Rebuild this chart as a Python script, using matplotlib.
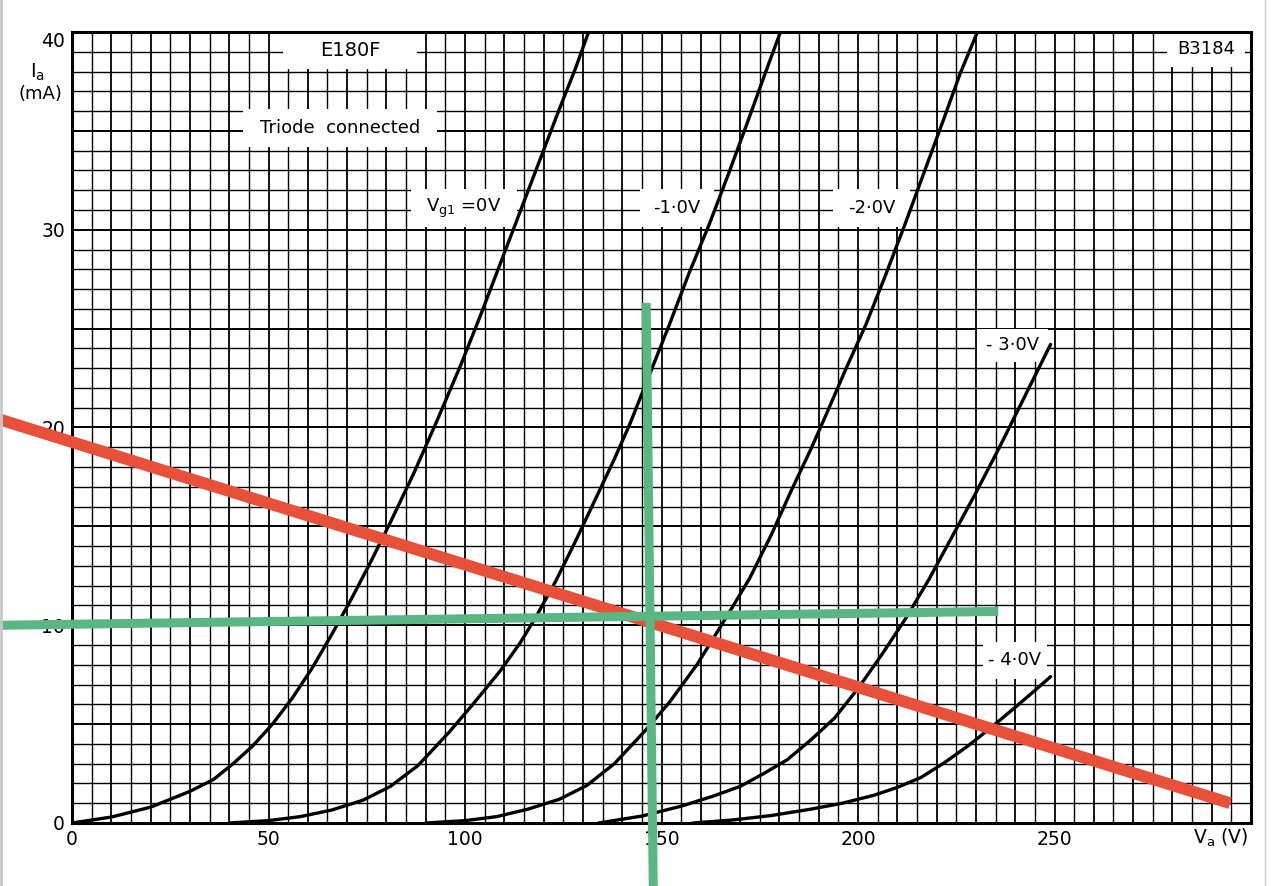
import numpy as np
import matplotlib.pyplot as plt
from matplotlib.patches import Rectangle
from matplotlib.lines import Line2D

# E180F triode-connected anode characteristics
va_0 = [0, 10, 20, 30, 36, 41, 46, 51, 56, 61, 66, 71, 76, 81, 87, 93, 99, 104, 109, 114, 119, 124, 128, 132]
ia_0 = [0, 0.3, 0.8, 1.6, 2.2, 3.0, 3.9, 5.0, 6.3, 7.8, 9.5, 11.3, 13.2, 15.2, 17.7, 20.4, 23.2, 25.7, 28.3, 30.9, 33.5, 36.1, 38.1, 40.3]

va_1 = [40, 50, 58, 66, 74, 81, 88, 96, 102, 109, 114, 118, 123, 128, 133, 138, 142, 147, 152, 157, 162, 167, 172, 176, 181]
ia_1 = [0, 0.12, 0.32, 0.65, 1.15, 1.85, 2.9, 4.6, 6.0, 7.7, 9.1, 10.4, 12.2, 14.2, 16.3, 18.4, 20.2, 22.7, 25.2, 27.8, 30.2, 32.8, 35.5, 37.7, 40.4]

va_2 = [90, 100, 108, 116, 124, 131, 138, 146, 152, 159, 164, 168, 172.5, 178, 183, 188, 192, 197, 202, 207, 212, 217, 222, 226, 231]
ia_2 = [0, 0.12, 0.32, 0.7, 1.2, 1.9, 3.0, 4.7, 6.1, 8.0, 9.6, 10.9, 12.4, 14.6, 16.8, 18.9, 20.7, 23.0, 25.2, 27.7, 30.3, 33.0, 35.7, 37.9, 40.3]

va_3 = [134, 145, 155, 163, 170, 176, 182, 188, 194, 200, 206, 212, 218, 224, 230, 236, 240, 245, 249]
ia_3 = [0, 0.35, 0.85, 1.35, 1.85, 2.5, 3.2, 4.2, 5.3, 6.8, 8.5, 10.3, 12.3, 14.5, 16.7, 19.0, 20.6, 22.6, 24.2]

va_4 = [158, 168, 178, 188, 196, 204, 210, 216, 222, 228, 234, 240, 245, 249]
ia_4 = [0, 0.15, 0.38, 0.7, 1.0, 1.4, 1.8, 2.3, 3.05, 3.9, 4.85, 5.85, 6.7, 7.4]

curves = [(va_0, ia_0), (va_1, ia_1), (va_2, ia_2), (va_3, ia_3), (va_4, ia_4)]

# hand-drawn overlay: load line (red) and operating point cross (green)
load_va = [-18.3, 294.7]
load_ia = [20.4, 1.0]
op_h_va = [-18.3, 235.7]
op_h_ia = [10.0, 10.7]
op_v_va = [146.1, 147.9]
op_v_ia = [26.3, -3.2]

xticks = [0, 50, 100, 150, 200, 250]
yticks = [0, 10, 20, 30, 40]

W, H = 1272, 886
fig = plt.figure(figsize=(W / 100, H / 100), dpi=100)
ax = fig.add_axes([72 / W, 63 / H, 1179 / W, 791 / H])
ax.set_xlim(0, 300)
ax.set_ylim(0, 40)

# graph paper
for v in np.arange(5, 300, 5):
    ax.plot([v, v], [0, 40], color="black", lw=1.3 if v % 10 == 0 else 1.0, zorder=1)
for i in np.arange(1, 40, 1):
    ax.plot([0, 300], [i, i], color="black", lw=1.4 if i % 5 == 0 else 1.0, zorder=1)

for s in ax.spines.values():
    s.set_linewidth(2.2)
    s.set_zorder(3)

ax.set_xticks(xticks)
ax.set_yticks(yticks)
ax.tick_params(length=0, labelsize=13.5, pad=5)
ylabels = ax.get_yticklabels()
ylabels[-1].set_va("top")

# white label patches that mask the grid
boxes = [
    (53.7, 38.15, 34.1, 1.85, "E180F", 14),
    (43.5, 34.2, 49.5, 1.9, "Triode  connected", 13),
    (86.3, 30.15, 27.0, 1.9, r"V$_\mathregular{g1}$ =0V", 13),
    (144.6, 30.15, 18.7, 1.9, "-1·0V", 13),
    (193.6, 30.15, 19.6, 1.9, "-2·0V", 13),
    (230.3, 23.3, 18.1, 1.7, "- 3·0V", 13),
    (231.8, 7.3, 16.3, 1.85, "- 4·0V", 13),
    (278.7, 38.25, 19.9, 1.75, "B3184", 13),
]
for x0, y0, w, h, txt, fs in boxes:
    ax.add_patch(Rectangle((x0, y0), w, h, facecolor="white", edgecolor="none", zorder=2))
    ax.text(x0 + w / 2, y0 + h / 2, txt, ha="center", va="center", fontsize=fs, zorder=3)

for va, ia in curves:
    ax.plot(va, ia, color="black", lw=2.4, zorder=4,
            solid_capstyle="round", solid_joinstyle="round")

ax.plot(load_va, load_ia, color="#e8503a", lw=8.5, zorder=6, clip_on=False, solid_capstyle="butt")
ax.plot(op_h_va, op_h_ia, color="#5ab784", lw=6.5, zorder=7, clip_on=False, solid_capstyle="butt")
ax.plot(op_v_va, op_v_ia, color="#5ab784", lw=6.5, zorder=7, clip_on=False, solid_capstyle="butt")

# axis titles
fig.text(38 / W, 1 - 72 / H, r"I$_\mathregular{a}$", ha="center", va="center", fontsize=14)
fig.text(40 / W, 1 - 94 / H, "(mA)", ha="center", va="center", fontsize=13)
fig.text(1248 / W, 1 - 838 / H, r"V$_\mathregular{a}$ (V)", ha="right", va="center", fontsize=13.5)

# scan borders
fig.add_artist(Line2D([1 / W, 1 / W], [0, 1], color="#c8c8c8", lw=2))
fig.add_artist(Line2D([1265 / W, 1265 / W], [0, 1], color="#d0d0d0", lw=1))

fig.savefig("out.png", dpi=100, facecolor="white")
